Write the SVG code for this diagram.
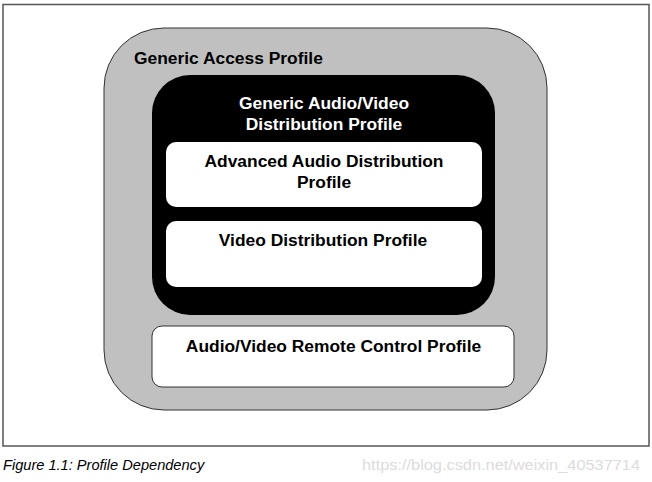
<svg xmlns="http://www.w3.org/2000/svg" width="652" height="482" viewBox="0 0 652 482">
  <style>
    .lbl { font-family: "Liberation Sans", Arial, sans-serif; font-weight: bold; font-size: 17.4px; }
    .dark { fill: #000; }
    .light { fill: #fff; }
    .mid { text-anchor: middle; }
    .caption { font-family: "Liberation Sans", Arial, sans-serif; font-style: italic; font-size: 14.6px; fill: #000; }
    .mark { font-family: "Liberation Sans", Arial, sans-serif; font-size: 15px; fill: #dcdcdc; }
  </style>

  <!-- figure frame -->
  <rect x="3" y="4.5" width="646" height="441.5" fill="#fff" stroke="#555" stroke-width="1.5"/>

  <g id="gap">
    <rect x="104" y="28" width="443" height="382" rx="60" ry="60" fill="#c0c0c0" stroke="#333" stroke-width="1"/>
    <text class="lbl dark" x="134" y="63.5">Generic Access Profile</text>
  </g>

  <g id="gavdp">
    <rect x="152" y="75" width="343" height="240" rx="38" ry="38" fill="#000"/>
    <text class="lbl light mid" x="324" y="108.5">Generic Audio/Video</text>
    <text class="lbl light mid" x="324" y="130">Distribution Profile</text>
  </g>

  <g id="a2dp">
    <rect x="166" y="142" width="316" height="65" rx="10" ry="10" fill="#fff"/>
    <text class="lbl dark mid" x="324" y="167">Advanced Audio Distribution</text>
    <text class="lbl dark mid" x="324" y="187.5">Profile</text>
  </g>

  <g id="vdp">
    <rect x="166" y="221" width="316" height="66" rx="10" ry="10" fill="#fff"/>
    <text class="lbl dark mid" x="323" y="245.5">Video Distribution Profile</text>
  </g>

  <g id="avrcp">
    <rect x="152" y="326" width="362" height="61" rx="10" ry="10" fill="#fff" stroke="#333" stroke-width="1"/>
    <text class="lbl dark mid" x="333.5" y="352">Audio/Video Remote Control Profile</text>
  </g>

  <g id="connectors"/>

  <text class="caption" x="3" y="469.5">Figure 1.1: Profile Dependency</text>
  <text class="mark" x="362" y="469.5" textLength="278" lengthAdjust="spacingAndGlyphs">https://blog.csdn.net/weixin_40537714</text>
</svg>
